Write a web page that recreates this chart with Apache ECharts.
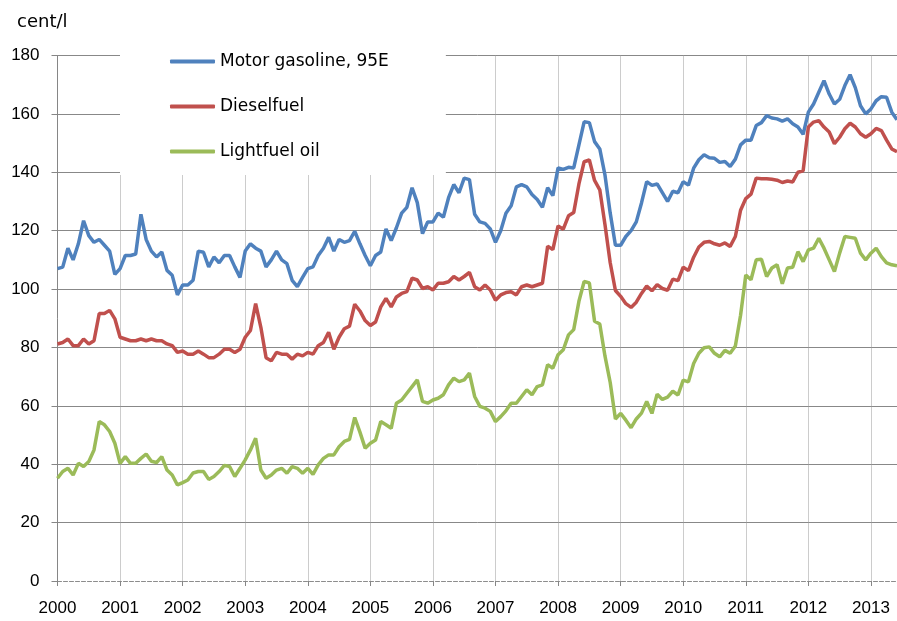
<!DOCTYPE html>
<html>
<head>
<meta charset="utf-8">
<title>Fuel prices, cent/l</title>
<script src="https://cdn.jsdelivr.net/npm/echarts@6.0.0/dist/echarts.min.js"></script>
<style>
  html, body { margin: 0; padding: 0; background: #fff; }
  #main { width: 897px; height: 621px; }
</style>
</head>
<body>
<div id="main"></div>
<script>
// x axis tick labels (one per January)
var years = [2000, 2001, 2002, 2003, 2004, 2005, 2006, 2007, 2008, 2009, 2010, 2011, 2012, 2013];

// monthly prices, cent/l, Jan 2000 - Jun 2013
var gasoline = [
  107, 107.5, 114, 110, 115.5, 123.4, 118.3, 116, 117, 115, 113, 105,
  107, 111.5, 111.5, 112, 125.6, 117, 113, 111, 112.7, 106.4, 104.7, 98,
  101.4, 101.4, 103, 113, 112.6, 107.6, 111, 109, 111.5, 111.5, 107.6, 104,
  113, 115.5, 114, 113, 107.6, 110, 113, 110, 108.7, 103, 100.8, 104,
  107, 107.6, 111.5, 114, 117.7, 113, 117, 116, 116.6, 119.8, 115.5, 111.5,
  108, 111.5, 112.7, 120.6, 116.6, 121, 126, 128, 134.7, 129.6, 119, 123,
  123, 126, 124.6, 131.3, 135.8, 133, 138, 137.5, 125.6, 123, 122.5, 120.6,
  116, 120, 126, 128.5, 135, 135.8, 135, 132.4, 130.7, 128, 134.7, 132,
  141.5, 141, 141.7, 141.5, 149.4, 157.3, 157, 150.5, 148, 139, 126, 115,
  115, 118, 120, 123, 129.5, 136.8, 135.5, 136, 133, 130, 133.5, 133,
  136.8, 135.6, 141.4, 144.3, 146, 145, 144.8, 143.4, 143.7, 142, 144.5, 149.4,
  151, 151, 156, 157, 159.4, 158.6, 158.3, 157.5, 158.3, 156.6, 155.5, 153,
  160.6, 163.4, 167.4, 171.4, 166.8, 163.4, 165, 169.7, 173.4, 169, 162.8, 160,
  161.7, 164.5, 165.9, 165.7, 160.6, 158
];

var diesel = [
  81.2, 81.7, 82.9, 80.6, 80.6, 82.9, 81.2, 82.3, 91.6, 91.6, 92.7, 89.8,
  83.5, 82.9, 82.3, 82.3, 82.9, 82.3, 82.9, 82.3, 82.3, 81.2, 80.6, 78.3,
  78.8, 77.7, 77.7, 78.8, 77.7, 76.5, 76.5, 77.7, 79.4, 79.4, 78.3, 79.4,
  83.5, 85.8, 95, 86.9, 76.5, 75.4, 78.3, 77.7, 77.7, 76, 77.7, 77.1,
  78.3, 77.7, 80.6, 81.7, 85.2, 79.4, 83.5, 86.4, 87.3, 94.8, 92.5, 89.2,
  87.5, 88.7, 93.9, 96.8, 93.9, 97.3, 98.5, 99.1, 103.7, 103.1, 100.2, 100.8,
  99.7, 102, 102, 102.5, 104.3, 103.1, 104.3, 105.7, 100.8, 99.7, 101.4, 99.7,
  96.2, 98, 98.8, 99.1, 98, 100.8, 101.4, 100.8, 101.4, 102, 114.7, 113.5,
  121.6, 120.5, 125.1, 126.2, 136, 143.6, 144.2, 137.2, 134, 122, 109, 99.5,
  97.5, 95, 93.7, 95.5, 98.5, 101, 99.4, 101.5, 100.2, 99.6, 103.4, 102.9,
  107.5, 106.3, 110.9, 114.4, 116, 116.3, 115.5, 115, 115.8, 114.6, 118, 127,
  131, 132.5, 138, 137.8, 137.8, 137.6, 137.3, 136.5, 137, 136.7, 140, 140.5,
  155.5, 157.2, 157.7, 155.5, 153.8, 149.8, 152, 154.9, 156.8, 155.5, 153.2, 152,
  153.2, 155, 154.3, 151, 148, 147
];

var lightFuelOil = [
  35.2, 37.5, 38.6, 36.3, 40.3, 39.2, 40.9, 44.9, 54.6, 53.5, 51.2, 47.2,
  40.3, 42.6, 40.3, 40.3, 42, 43.5, 41, 40.6, 42.6, 38, 36.3, 32.9,
  33.7, 34.6, 37, 37.5, 37.5, 34.8, 35.8, 37.5, 39.6, 39.2, 35.8, 38.6,
  41.5, 44.9, 48.9, 38, 35.2, 36.3, 38, 38.6, 36.9, 39.2, 38.6, 36.9,
  38.6, 36.5, 39.8, 42, 43.2, 43.2, 46, 47.8, 48.5, 56, 51, 45.5,
  47.2, 48.3, 54.6, 53.5, 52.3, 60.9, 62, 64.3, 66.6, 68.9, 61.5, 60.9,
  62, 62.6, 63.8, 67.2, 69.5, 68.3, 68.9, 71.2, 63.2, 59.8, 59.2, 58.1,
  54.6, 56.3, 58.3, 60.9, 60.9, 63.2, 65.5, 63.8, 66.6, 67.2, 74.1, 72.9,
  77.5, 79.2, 84.3, 86.1, 95.8, 102.6, 102.1, 89, 88, 77, 68, 55.5,
  57.4, 55.1, 52.5, 55.5, 57.5, 61.5, 57.4, 64, 62.2, 63, 65, 63.7,
  68.8, 68.2, 74.5, 78, 79.9, 80.2, 78, 76.8, 79, 78, 80.5, 91,
  104.8, 103.2, 110, 110.2, 104.3, 107.2, 108.3, 101.8, 107.2, 107.5, 112.8, 109.4,
  113.4, 114, 117.4, 114, 110, 106, 112.3, 118, 117.7, 117.4, 112.3, 110,
  112.3, 114, 111.1, 109, 108.3, 108
];

var seriesNames = ['Motor gasoline, 95E', 'Dieselfuel', 'Lightfuel oil'];
var seriesColors = ['#4f81bd', '#c0504d', '#9bbb59'];

// month categories built from the years list
var months = [];
years.forEach(function (y) {
  for (var m = 1; m <= 12; m++) {
    months.push(y + '-' + (m < 10 ? '0' + m : m));
  }
});
months = months.slice(0, gasoline.length);

// only January gets a tick, label and grid line
function isJan(index, value) {
  return String(value).slice(5) === '01';
}

var font = 'Liberation Sans, Arial, sans-serif';
var wideFont = 'DejaVu Sans, Verdana, sans-serif';

var myChart = echarts.init(document.getElementById('main'));

var option = {
  animation: false,
  title: {
    text: 'cent/l',
    left: 12,
    top: 8,
    textStyle: { fontFamily: wideFont, fontSize: 18, fontWeight: 'normal', color: '#000' }
  },
  legend: {
    orient: 'vertical',
    left: 120,
    top: 39,
    padding: [14, 57, 15, 50],
    backgroundColor: '#fff',
    icon: 'roundRect',
    itemWidth: 45,
    itemHeight: 4,
    itemGap: 28,
    data: seriesNames,
    textStyle: { fontFamily: wideFont, fontSize: 17, color: '#000' }
  },
  grid: { left: 57.5, right: -1, top: 55.5, bottom: 40 },
  xAxis: {
    type: 'category',
    boundaryGap: false,
    data: months,
    axisLine: { lineStyle: { color: '#8c8c8c', type: 'dashed', width: 1 } },
    axisTick: { interval: isJan, length: 5, lineStyle: { color: '#868686' } },
    axisLabel: {
      interval: isJan,
      formatter: function (v) { return v.slice(0, 4); },
      margin: 19,
      fontFamily: font,
      fontSize: 17,
      color: '#000'
    },
    splitLine: {
      show: true,
      interval: isJan,
      showMinLine: false,
      lineStyle: { color: '#9a9a9a', type: 'dotted', width: 1 }
    }
  },
  yAxis: {
    type: 'value',
    min: 0,
    max: 180,
    interval: 20,
    axisLine: { show: true, lineStyle: { color: '#868686', width: 1 } },
    axisTick: { show: true, length: 6, lineStyle: { color: '#868686' } },
    axisLabel: { margin: 18, fontFamily: font, fontSize: 17, color: '#000' },
    splitLine: { show: true, showMinLine: false, lineStyle: { color: '#888', width: 1 } }
  },
  series: [
    {
      name: seriesNames[0],
      type: 'line',
      data: gasoline,
      symbol: 'none',
      lineStyle: { width: 3.5, color: seriesColors[0] },
      itemStyle: { color: seriesColors[0] }
    },
    {
      name: seriesNames[1],
      type: 'line',
      data: diesel,
      symbol: 'none',
      lineStyle: { width: 3.5, color: seriesColors[1] },
      itemStyle: { color: seriesColors[1] }
    },
    {
      name: seriesNames[2],
      type: 'line',
      data: lightFuelOil,
      symbol: 'none',
      lineStyle: { width: 3.5, color: seriesColors[2] },
      itemStyle: { color: seriesColors[2] }
    }
  ]
};

myChart.setOption(option);
</script>
</body>
</html>
